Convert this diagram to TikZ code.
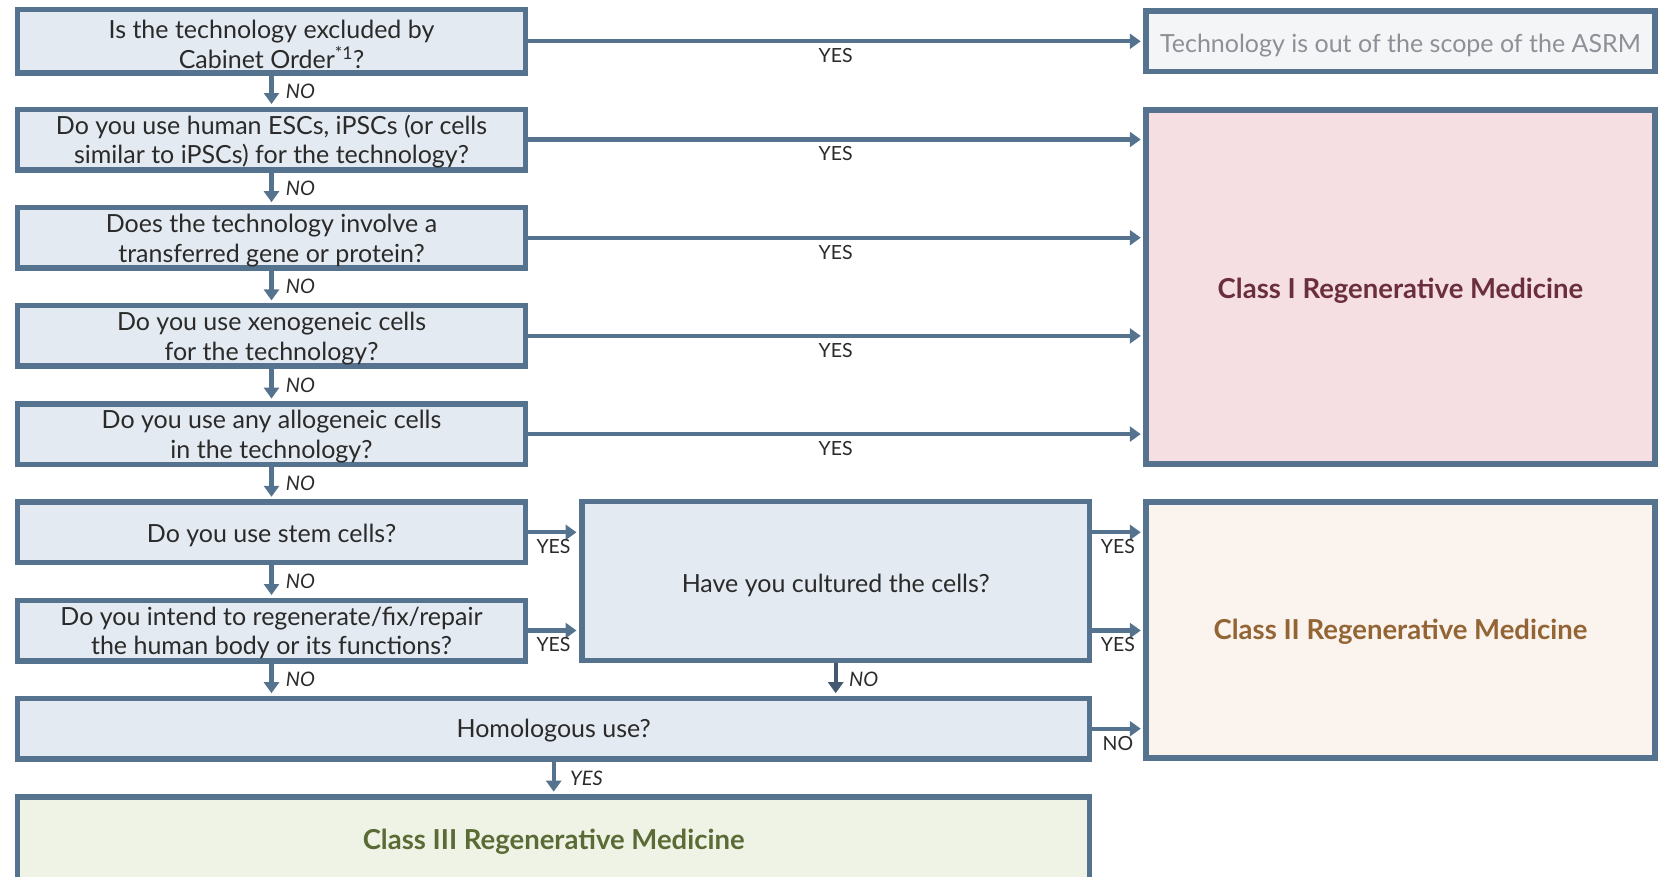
\documentclass[tikz,border=0pt]{standalone}
\usepackage{fontspec}
\setmainfont{Lato}
\usetikzlibrary{arrows.meta}
\definecolor{frame}{HTML}{55738F}
\definecolor{frameDark}{HTML}{44596F}
\definecolor{qfill}{HTML}{E4EAF1}
\definecolor{txt}{HTML}{2A2A2A}
\definecolor{outfill}{HTML}{F3F5F7}
\definecolor{outtext}{HTML}{8E9097}
\definecolor{cIfill}{HTML}{F5DFE2}
\definecolor{cItext}{HTML}{6B2E3C}
\definecolor{cIIfill}{HTML}{FBF3EE}
\definecolor{cIItext}{HTML}{946534}
\definecolor{cIIIfill}{HTML}{EFF3E5}
\definecolor{cIIItext}{HTML}{5B6B35}
\begin{document}
\begin{tikzpicture}[x=1pt,y=-1pt,
  % a zero-width strut on the first line sets the text a little lower
  strut/.style={execute at begin node={\rule{0pt}{#1}}},
  box/.style={draw=frame, line width=5.5pt, fill=qfill, inner sep=0pt,
    align=center, text=txt, font=\fontsize{25}{29.7}\selectfont},
  qbox/.style={box, minimum width=507.6pt, minimum height=60.5pt},
  % two-line questions: fixed text box so both lines sit alike in every box
  qtwo/.style={qbox, text height=53.7pt, text depth=5pt},
  rbox/.style={box, minimum width=509pt},
  classtxt/.style={font=\fontsize{27.5}{30}\selectfont\bfseries},
  link/.style={draw=frame, line width=4.2pt, shorten >=2.5pt,
    -{Triangle[width=15pt,length=11pt]}},
  yes/.style={font=\fontsize{19.5}{19.5}\selectfont, text=txt, yshift=-14.5pt},
  no/.style={font=\fontsize{20}{20}\selectfont\itshape, text=txt, anchor=west},
]
\useasboundingbox (0,0) rectangle (1663,876);

% question column
\node[qtwo, text height=58.5pt] (q1) at (271.5, 41.3) {Is the technology excluded by\\Cabinet Order\textsuperscript{*1}?};
\node[qtwo] (q2) at (271.5,139.5) {Do you use human ESCs, iPSCs (or cells\\similar to iPSCs) for the technology?};
\node[qtwo] (q3) at (271.5,237.7) {Does the technology involve a\\transferred gene or protein?};
\node[qtwo] (q4) at (271.5,335.9) {Do you use xenogeneic cells\\for the technology?};
\node[qtwo] (q5) at (271.5,434.1) {Do you use any allogeneic cells\\in the technology?};
\node[qbox, strut=25pt] (q6) at (271.5,532.3) {Do you use stem cells?};
\node[qtwo] (q7) at (271.5,630.5) {Do you intend to regenerate/fix/repair\\the human body or its functions?};

\node[box, strut=27pt, minimum width=507.9pt, minimum height=159pt] (cult) at (835.7,580.9) {Have you cultured the cells?};
\node[box, strut=23pt, minimum width=1072pt, minimum height=60.5pt] (hom) at (553.7,728.7) {Homologous use?};
\node[box, fill=cIIIfill, text=cIIItext, classtxt, minimum width=1072pt, minimum height=90pt] (c3) at (553.7,841.9) {Class III Regenerative Medicine};

% outcome column
\node[rbox, strut=27pt, fill=outfill, text=outtext, minimum height=60.5pt] (out) at (1400.5,41.3) {Technology is out of the scope of the ASRM};
\node[rbox, strut=28pt, fill=cIfill, text=cItext, classtxt, minimum height=354.3pt] (c1) at (1400.5,286.9) {Class I Regenerative Medicine};
\node[rbox, strut=24pt, fill=cIIfill, text=cIItext, classtxt, minimum height=256.1pt] (c2) at (1400.5,629.8) {Class II Regenerative Medicine};

% YES branches to the right
\draw[link] (q1.east) -- node[yes]{YES} (out.west);
\draw[link] (q2.east) -- node[yes]{YES} (q2.east -| c1.west);
\draw[link] (q3.east) -- node[yes]{YES} (q3.east -| c1.west);
\draw[link] (q4.east) -- node[yes]{YES} (q4.east -| c1.west);
\draw[link] (q5.east) -- node[yes]{YES} (q5.east -| c1.west);
\draw[link] (q6.east) -- node[yes]{YES} (q6.east -| cult.west);
\draw[link] (q7.east) -- node[yes]{YES} (q7.east -| cult.west);
\draw[link] (q6.east -| cult.east) -- node[yes]{YES} (q6.east -| c2.west);
\draw[link] (q7.east -| cult.east) -- node[yes]{YES} (q7.east -| c2.west);
\draw[link] (hom.east) -- node[yes]{NO} (hom.east -| c2.west);

% NO branches downward
\draw[link] (q1.south) -- node[no, xshift=9pt]{NO} (q2.north);
\draw[link] (q2.south) -- node[no, xshift=9pt]{NO} (q3.north);
\draw[link] (q3.south) -- node[no, xshift=9pt]{NO} (q4.north);
\draw[link] (q4.south) -- node[no, xshift=9pt]{NO} (q5.north);
\draw[link] (q5.south) -- node[no, xshift=9pt]{NO} (q6.north);
\draw[link] (q6.south) -- node[no, xshift=9pt]{NO} (q7.north);
\draw[link] (q7.south) -- node[no, xshift=9pt]{NO} (q7.south |- hom.north);
\draw[link, draw=frameDark] (cult.south) -- node[no, xshift=8pt]{NO} (cult.south |- hom.north);
\draw[link] (hom.south) -- node[no, xshift=11pt]{YES} (c3.north);
\end{tikzpicture}
\end{document}
